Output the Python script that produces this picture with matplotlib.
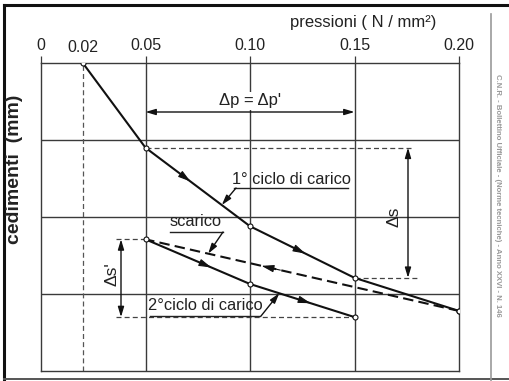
import matplotlib
matplotlib.use('Agg')
import matplotlib.pyplot as plt
from matplotlib.lines import Line2D

# ---------------- data ----------------
p_load1 = [0.02, 0.05, 0.10, 0.15, 0.20]     # 1st loading cycle, pressure N/mm2
s_load1 = [0.00, 1.10, 2.12, 2.79, 3.22]     # settlement (grid units)
p_unload = [0.20, 0.05]                      # unloading
s_unload = [3.22, 2.29]
p_load2 = [0.05, 0.10, 0.15]                 # 2nd loading cycle
s_load2 = [2.29, 2.87, 3.30]
major_ticks = [0, 0.05, 0.10, 0.15, 0.20]
major_labels = ['0', '0.05', '0.10', '0.15', '0.20']
minor_ticks = [0.02]
minor_labels = ['0.02']
grid_x = [0.05, 0.10, 0.15]
grid_y = [1, 2, 3]

FONT = ['Liberation Sans', 'DejaVu Sans']
plt.rcParams['font.family'] = FONT

W, H = 509, 381
fig = plt.figure(figsize=(W / 100, H / 100), dpi=100)
fig.patch.set_facecolor('white')


def fx(px):
    return px / W


def fy(py):
    return 1 - py / H


L, R, T, B = 41, 459, 63, 371
ax = fig.add_axes([fx(L), fy(B), fx(R) - fx(L), fy(T) - fy(B)])
ax.set_xlim(0, 0.20)
ax.set_ylim(4, 0)


def dx(px):
    return (px - L) / (R - L) * 0.20


def dy(py):
    return (py - T) / (B - T) * 4


TC = '#222'
GC = '#3a3a3a'
for s in ax.spines.values():
    s.set_color(GC)
    s.set_linewidth(1.0)

ax.xaxis.tick_top()
ax.set_xticks(major_ticks, labels=major_labels)
ax.set_xticks(minor_ticks, labels=minor_labels, minor=True)
ax.tick_params(axis='x', which='major', direction='out', length=5, width=0.9,
               color=GC, pad=2.5, labelsize=11.5, labelcolor=TC)
ax.tick_params(axis='x', which='minor', direction='out', length=0,
               pad=6.1, labelsize=11.5, labelcolor=TC)
ax.set_yticks([])

for x in grid_x:
    ax.axvline(x, color=GC, lw=1.0, zorder=1)
for y in grid_y:
    ax.axhline(y, color=GC, lw=1.0, zorder=1)
ax.axvline(minor_ticks[0], color='#555', lw=0.9, ls=(0, (4, 2.5)), zorder=1)

mk = dict(marker='o', ms=3.6, mfc='white', mec='#111', mew=0.8)
ax.plot(p_load1, s_load1, color='#111', lw=1.5, zorder=4, **mk)
ax.plot(p_unload, s_unload, color='#111', lw=1.5, ls=(0, (5, 2.5)), zorder=3)
ax.plot(p_load2, s_load2, color='#111', lw=1.5, zorder=4, **mk)
ax.plot([p_unload[0]], [s_unload[0]], zorder=5, **mk)


def seg_point(xs, ys, i, t):
    return (xs[i] + (xs[i + 1] - xs[i]) * t, ys[i] + (ys[i + 1] - ys[i]) * t)


def head(xs, ys, i, t, dt=0.03):
    tail = seg_point(xs, ys, i, t - dt)
    tip = seg_point(xs, ys, i, t + dt)
    ax.annotate('', xy=tip, xytext=tail,
                arrowprops=dict(arrowstyle='-|>,head_length=0.75,head_width=0.22',
                                color='#111', lw=0.8, shrinkA=0, shrinkB=0), zorder=6)


head(p_load1, s_load1, 1, 0.40)
head(p_load1, s_load1, 2, 0.50)
head(p_unload, s_unload, 0, 0.60)
head(p_load2, s_load2, 0, 0.60)
head(p_load2, s_load2, 1, 0.55)

dash = dict(color='#444', lw=0.9, ls=(0, (4, 2.5)), zorder=2)
dim = dict(arrowstyle='<|-|>,head_length=0.6,head_width=0.18', color='#111',
           lw=1.0, shrinkA=0, shrinkB=0)

# delta p
yp = dy(112)
ax.annotate('', xy=(p_load1[1], yp), xytext=(p_load1[3], yp), arrowprops=dim)
ax.text(0.10, dy(101), "Δp = Δp'", ha='center', va='center', fontsize=12,
        color=TC, zorder=5,
        bbox=dict(facecolor='white', edgecolor='none', pad=1.0))

# delta s
xs_ = dx(408)
ax.plot([p_load1[1], dx(414)], [s_load1[1], s_load1[1]], **dash)
ax.plot([p_load1[3], dx(418)], [s_load1[3], s_load1[3]], **dash)
ax.annotate('', xy=(xs_, s_load1[1]), xytext=(xs_, s_load1[3]), arrowprops=dim)
ax.text(dx(394), (s_load1[1] + s_load1[3]) / 2 + 0.05, 'Δs', rotation=90,
        ha='center', va='center', fontsize=12.5, color=TC)

# delta s'
xs2 = dx(121)
ax.plot([dx(116), p_load2[0]], [s_load2[0], s_load2[0]], **dash)
ax.plot([dx(116), p_load2[2]], [s_load2[2], s_load2[2]], **dash)
ax.annotate('', xy=(xs2, s_load2[0]), xytext=(xs2, s_load2[2]), arrowprops=dim)
ax.text(dx(112), dy(274), "Δs'", rotation=90, ha='center', va='center',
        fontsize=12.5, color=TC)

# labels with underline and leader
lead = dict(arrowstyle='-|>,head_length=0.6,head_width=0.18', color='#111',
            lw=1.0, shrinkA=0, shrinkB=0)


def label(text, cx, cy, ux0, ux1, uy, lx, tip):
    ax.text(dx(cx), dy(cy), text, ha='center', va='center', fontsize=11.8,
            color=TC, zorder=5)
    ax.plot([dx(ux0), dx(ux1)], [dy(uy), dy(uy)], color=TC, lw=1.0, zorder=5)
    ax.annotate('', xy=tip, xytext=(dx(lx), dy(uy)), arrowprops=lead, zorder=6)


label('1° ciclo di carico', 291, 180, 234, 348, 188, 236,
      seg_point(p_load1, s_load1, 1, 0.73))
label('scarico', 196, 222, 170, 223, 232, 223,
      seg_point(p_unload, s_unload, 0, 0.80))
label('2°ciclo di carico', 205, 306, 150, 260, 316, 261,
      seg_point(p_load2, s_load2, 1, 0.28))

# axis titles
fig.text(fx(363), fy(23), 'pressioni ( N / mm²)', ha='center', va='center',
         fontsize=12, color=TC)
fig.text(fx(15), fy(169), 'cedimenti  (mm)', rotation=90, ha='center',
         va='center', fontsize=14, fontweight='bold', color=TC)

# page frame and side note
fig.add_artist(Line2D([fx(4), fx(4)], [fy(5), fy(379)], color='#111', lw=2.2))
fig.add_artist(Line2D([fx(4), fx(509)], [fy(5), fy(5)], color='#111', lw=2.2))
fig.add_artist(Line2D([fx(4), fx(509)], [fy(378.5), fy(378.5)], color='#555', lw=1.4))
fig.add_artist(Line2D([fx(491), fx(491)], [fy(14), fy(381)], color='#999', lw=1.2))
fig.text(fx(498), fy(195), 'C.N.R. - Bollettino Ufficiale - (Norme tecniche) - Anno XXVI - N. 146',
         rotation=-90, ha='center', va='center', fontsize=5.6, fontweight='bold',
         color='#999')

fig.savefig('out.png', dpi=100, facecolor='white')
